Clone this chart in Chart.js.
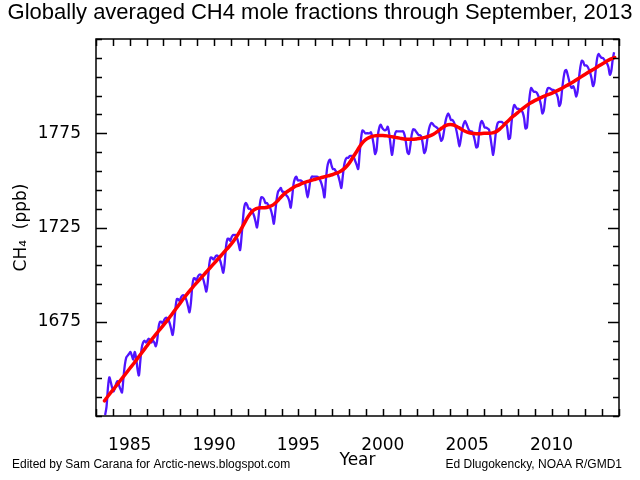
<!DOCTYPE html>
<html>
<head>
<meta charset="utf-8">
<script src="https://cdn.jsdelivr.net/npm/chart.js@4.4.1/dist/chart.umd.min.js"></script>
<style>
  html, body { margin: 0; padding: 0; background: #fff; }
  canvas { display: block; }
</style>
</head>
<body>
<canvas id="chart" width="640" height="480"></canvas>
<script>
// monthly global means, starting July 1983 (ppb)
const startYear = 1983;
const startMonth = 7;
const ch4Monthly = [
  1625.5, 1630, 1640, 1645.5, 1643, 1640,
  1638, 1640, 1642.5, 1643.5, 1641, 1639, 1637.5, 1645, 1652, 1656, 1657, 1658,
  1659, 1657, 1655, 1659, 1656, 1650, 1646.5, 1654, 1661, 1664, 1665, 1664,
  1665, 1666, 1665, 1664, 1665, 1664, 1662, 1665, 1672, 1675, 1675, 1674,
  1676, 1677, 1677, 1676, 1674, 1671, 1668, 1673, 1682, 1687, 1687, 1686,
  1688, 1689, 1689, 1688, 1686, 1683, 1680, 1685, 1694, 1698, 1698, 1697,
  1699, 1700, 1700, 1699, 1697, 1694, 1691, 1696, 1705, 1709, 1709, 1708,
  1709, 1710, 1710, 1709, 1707, 1704, 1701, 1706, 1715, 1719, 1719, 1718,
  1720, 1721, 1721, 1721, 1719, 1716, 1713, 1720, 1729, 1736, 1738, 1737,
  1735, 1735, 1734, 1733, 1731, 1728, 1725, 1730, 1737, 1741, 1741, 1740,
  1738, 1738, 1737, 1736, 1734, 1731, 1727, 1733, 1740, 1744, 1745, 1746,
  1744, 1744, 1743, 1742, 1741, 1739, 1735.5, 1741, 1748, 1751, 1752, 1750,
  1750, 1750, 1749.5, 1749, 1749, 1745, 1741, 1745, 1750, 1752, 1752, 1752,
  1752, 1752, 1751, 1750, 1748, 1745, 1741, 1750, 1757, 1760, 1761, 1758,
  1756, 1756, 1755, 1754, 1752, 1749, 1746, 1752, 1758, 1761, 1762, 1762,
  1763, 1763, 1763, 1762, 1760, 1758, 1756, 1764, 1772, 1776.5, 1776, 1775,
  1775, 1775, 1775, 1775.5, 1773, 1769, 1764, 1766, 1774, 1778, 1779.5, 1778,
  1777, 1776.5, 1777, 1778.5, 1775, 1769, 1763.5, 1768, 1774, 1776, 1776, 1776,
  1776, 1776, 1776, 1774, 1770, 1765, 1764, 1768, 1774, 1777, 1777, 1776,
  1775, 1774, 1774, 1773, 1769, 1764.5, 1766, 1771, 1776, 1779, 1780.5, 1780,
  1779, 1778.5, 1778, 1777, 1774, 1771, 1772, 1776, 1781, 1784, 1785.5, 1784,
  1782, 1782, 1781, 1779, 1776, 1772, 1768, 1772, 1777, 1780, 1781.5, 1780,
  1778, 1776.5, 1776, 1776, 1774, 1771, 1767.5, 1768, 1775, 1780, 1781.5, 1780,
  1778, 1778, 1777.5, 1777, 1773, 1768, 1763.5, 1769, 1776, 1780, 1781, 1781,
  1781, 1780.5, 1780, 1780.5, 1778, 1772, 1772.5, 1780, 1787, 1790, 1789, 1788,
  1788, 1787.5, 1787, 1786, 1783, 1777.5, 1778, 1787, 1795, 1799, 1798, 1797,
  1797, 1796.5, 1795, 1793, 1790, 1785.5, 1787, 1793, 1797, 1799, 1799, 1798.5,
  1798, 1798, 1797, 1796, 1794, 1789.5, 1791, 1798, 1804, 1808, 1808.5, 1806,
  1803, 1800, 1799, 1800, 1798, 1794.5, 1797, 1804, 1810, 1813.5, 1813, 1811,
  1811, 1810.5, 1809, 1807, 1804, 1800, 1802, 1809, 1815, 1817, 1816, 1815,
  1815, 1814, 1813, 1812, 1810, 1806, 1808, 1814, 1818
];

// deseasonalized trend, every quarter year from 1983.5
const trendStart = 1983.5;
const trendStep = 0.25;
const ch4Trend = [
  1633.0, 1636.0,
  1638.8, 1641.6, 1644.5, 1647.3,
  1650.2, 1653.0, 1656.0, 1659.0,
  1662.0, 1665.0, 1667.8, 1670.5,
  1673.2, 1676.0, 1679.0, 1682.0,
  1685.0, 1688.0, 1690.8, 1693.5,
  1696.0, 1698.5, 1701.0, 1703.5,
  1706.0, 1708.5, 1711.0, 1713.5,
  1716.0, 1719.0, 1722.5, 1726.5,
  1730.5, 1733.5, 1735.0, 1735.5,
  1735.5, 1736.0, 1737.0, 1739.0,
  1741.5, 1743.5, 1745.0, 1746.5,
  1747.5, 1748.5, 1749.3, 1750.0,
  1750.6, 1751.2, 1751.8, 1752.4,
  1753.0, 1753.8, 1754.8, 1756.5,
  1759.0, 1762.5, 1766.0, 1769.5,
  1771.8, 1773.0, 1773.6, 1773.8,
  1773.8, 1773.6, 1773.2, 1772.8,
  1772.4, 1772.0, 1771.8, 1771.8,
  1772.0, 1772.3, 1772.8, 1773.5,
  1774.5, 1776.0, 1777.8, 1779.2,
  1779.6, 1779.2, 1778.0, 1776.6,
  1775.6, 1775.0, 1774.8, 1774.8,
  1775.0, 1775.0, 1775.2, 1776.0,
  1777.8, 1780.0, 1782.2, 1784.2,
  1786.0, 1787.8, 1789.5, 1791.0,
  1792.3, 1793.4, 1794.4, 1795.3,
  1796.2, 1797.2, 1798.3, 1799.5,
  1800.8, 1802.1, 1803.5, 1804.9,
  1806.3, 1807.7, 1809.0, 1810.4,
  1811.8, 1813.1, 1814.3, 1815.2
];

const yearLabels = [1985, 1990, 1995, 2000, 2005, 2010];
const ppbLabels = [1675, 1725, 1775];

const titleText = "Globally averaged CH4 mole fractions through September, 2013";
const creditLeft = "Edited by Sam Carana for Arctic-news.blogspot.com";
const creditRight = "Ed Dlugokencky, NOAA R/GMD1";

const monthlyPoints = ch4Monthly.map((v, i) => ({ x: startYear + (startMonth - 1 + i + 0.5) / 12, y: v }));
const trendPoints = ch4Trend.map((v, i) => ({ x: trendStart + i * trendStep, y: v }));

const axisFont = { family: "DejaVu Sans", size: 17 };

// IDL-style box with inward ticks on all four sides, plus the credits
const frameTicks = {
  id: "frameTicks",
  afterDraw(chart) {
    const { ctx, chartArea: a, scales: { x, y } } = chart;
    ctx.save();
    ctx.strokeStyle = "#000";
    ctx.lineWidth = 1.5;
    ctx.strokeRect(a.left, a.top, a.right - a.left, a.bottom - a.top);
    ctx.beginPath();
    x.ticks.forEach(t => {
      const px = Math.round(x.getPixelForValue(t.value)) + 0.5;
      ctx.moveTo(px, a.bottom); ctx.lineTo(px, a.bottom - 7);
      ctx.moveTo(px, a.top); ctx.lineTo(px, a.top + 7);
    });
    y.ticks.forEach(t => {
      const py = Math.round(y.getPixelForValue(t.value)) + 0.5;
      const len = ppbLabels.includes(t.value) ? 11 : 6;
      ctx.moveTo(a.left, py); ctx.lineTo(a.left + len, py);
      ctx.moveTo(a.right, py); ctx.lineTo(a.right - len, py);
    });
    ctx.stroke();

    ctx.fillStyle = "#000";
    ctx.font = '12px "Liberation Sans"';
    ctx.textBaseline = "alphabetic";
    ctx.textAlign = "left";
    ctx.fillText(creditLeft, 12, 468);
    ctx.textAlign = "right";
    ctx.fillText(creditRight, 622, 468);
    ctx.restore();
  }
};

new Chart(document.getElementById("chart").getContext("2d"), {
  type: "line",
  data: {
    datasets: [
      {
        label: "Trend",
        data: trendPoints,
        borderColor: "#ff0000",
        borderWidth: 3.5,
        pointRadius: 0,
        tension: 0.4,
        borderCapStyle: "round",
        order: 0
      },
      {
        label: "Monthly mean",
        data: monthlyPoints,
        borderColor: "#5014ff",
        borderWidth: 2.3,
        pointRadius: 0,
        tension: 0.3,
        borderJoinStyle: "round",
        order: 1
      }
    ]
  },
  options: {
    responsive: false,
    animation: false,
    layout: { padding: 0 },
    plugins: {
      legend: { display: false },
      tooltip: { enabled: false },
      title: {
        display: true,
        text: titleText,
        color: "#000",
        font: { family: "Liberation Sans", size: 22, weight: "normal" },
        padding: { top: 0, bottom: 12.6 }
      }
    },
    scales: {
      x: {
        type: "linear",
        min: 1983,
        max: 2014,
        grid: { display: false },
        border: { display: false },
        ticks: {
          stepSize: 1,
          autoSkip: false,
          maxRotation: 0,
          color: "#000",
          font: axisFont,
          padding: 11,
          callback: v => yearLabels.includes(v) ? String(v) : ""
        },
        title: {
          display: true,
          text: "Year",
          color: "#000",
          font: axisFont,
          padding: { top: 0, bottom: 9 }
        },
        afterFit: s => { s.height = 64; }
      },
      y: {
        min: 1625,
        max: 1825,
        grid: { display: false },
        border: { display: false },
        ticks: {
          stepSize: 10,
          autoSkip: false,
          color: "#000",
          font: axisFont,
          padding: 7,
          callback: v => ppbLabels.includes(v) ? String(v) : ""
        },
        title: {
          display: true,
          text: "CH\u2084  (ppb)",
          color: "#000",
          font: axisFont,
          padding: { top: 11, bottom: 0 }
        },
        afterFit: s => { s.width = 96; }
      },
      yRight: {
        position: "right",
        min: 1625,
        max: 1825,
        grid: { display: false },
        border: { display: false },
        ticks: { display: false },
        afterFit: s => { s.width = 21; }
      }
    }
  },
  plugins: [frameTicks]
});
</script>
</body>
</html>
